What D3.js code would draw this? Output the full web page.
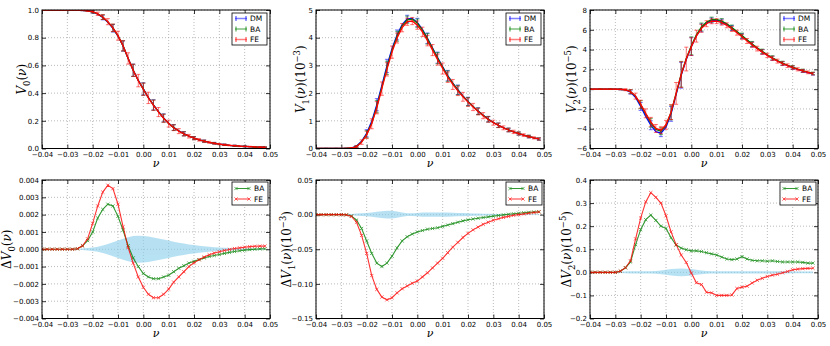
<!DOCTYPE html>
<html>
<head>
<meta charset="utf-8">
<script src="https://cdnjs.cloudflare.com/ajax/libs/d3/7.8.5/d3.min.js"></script>
<style>
body { margin: 0; background: #fff; }
svg { display: block; font-family: "DejaVu Sans", sans-serif; }
.grid line { stroke: #a8a8a8; stroke-dasharray: 1,2; stroke-width: 0.8; }
</style>
</head>
<body>
<div id="vis"></div>
<script>
// threshold grid
var nu = [-0.040,-0.038,-0.036,-0.034,-0.032,-0.030,-0.028,-0.026,-0.024,-0.022,
  -0.020,-0.018,-0.016,-0.014,-0.012,-0.010,-0.008,-0.006,-0.004,-0.002,
  0.000,0.002,0.004,0.006,0.008,0.010,0.012,0.014,0.016,0.018,
  0.020,0.022,0.024,0.026,0.028,0.030,0.032,0.034,0.036,0.038,
  0.040,0.042,0.044,0.046,0.048];

var xTicks = [-0.04,-0.03,-0.02,-0.01,0.00,0.01,0.02,0.03,0.04,0.05];

// V0
var v0DM = [1,1,1,1,1,1,1,0.999,0.998,0.994,
  0.986,0.970,0.946,0.912,0.868,0.812,0.740,0.650,0.565,0.492,
  0.430,0.368,0.315,0.266,0.221,0.182,0.152,0.127,0.107,0.090,
  0.075,0.063,0.053,0.045,0.038,0.032,0.027,0.023,0.020,0.017,
  0.015,0.013,0.011,0.010,0.009];
var v0Err = [0.002,0.002,0.002,0.002,0.002,0.002,0.002,0.002,0.003,0.005,
  0.008,0.012,0.017,0.022,0.027,0.032,0.037,0.041,0.044,0.045,
  0.044,0.041,0.037,0.033,0.029,0.025,0.021,0.018,0.015,0.013,
  0.011,0.009,0.008,0.007,0.006,0.005,0.005,0.004,0.004,0.004,
  0.003,0.003,0.003,0.003,0.003];
var v0Ticks = [0,0.2,0.4,0.6,0.8,1.0];

// V1 (10^-3)
var v1DM = [0,0,0,0,0,0,0.005,0.02,0.08,0.26,
  0.55,0.98,1.58,2.28,2.98,3.60,4.10,4.47,4.68,4.70,
  4.55,4.30,3.98,3.63,3.28,2.95,2.63,2.36,2.12,1.90,
  1.70,1.52,1.35,1.20,1.06,0.94,0.84,0.75,0.67,0.60,
  0.54,0.48,0.43,0.38,0.34];
var v1Err = [0.005,0.005,0.005,0.005,0.005,0.006,0.008,0.01,0.03,0.08,
  0.13,0.18,0.22,0.24,0.24,0.22,0.18,0.15,0.13,0.13,
  0.15,0.17,0.19,0.20,0.20,0.20,0.19,0.18,0.17,0.16,
  0.15,0.13,0.12,0.11,0.10,0.09,0.08,0.07,0.065,0.06,
  0.055,0.05,0.045,0.04,0.04];
var v1Ticks = [0,1,2,3,4,5];

// V2 (10^-5)
var v2DM = [0,0,0,0,0,0,-0.02,-0.08,-0.30,-0.85,
  -1.75,-2.75,-3.65,-4.30,-4.45,-3.85,-2.50,-0.55,1.40,3.00,
  4.30,5.40,6.20,6.70,6.95,6.97,6.82,6.55,6.18,5.78,
  5.35,4.93,4.52,4.13,3.77,3.43,3.12,2.84,2.59,2.37,
  2.17,1.99,1.83,1.68,1.55];
var v2Err = [0.02,0.02,0.02,0.02,0.02,0.02,0.05,0.1,0.2,0.3,
  0.4,0.45,0.45,0.4,0.35,0.45,0.75,1.1,1.3,1.2,
  0.9,0.6,0.4,0.3,0.25,0.25,0.25,0.25,0.25,0.25,
  0.25,0.25,0.25,0.24,0.23,0.22,0.21,0.2,0.19,0.18,
  0.17,0.16,0.15,0.14,0.13];
var v2Ticks = [-6,-4,-2,0,2,4,6,8];

// Delta V0
var dv0BA = [0,0,0,0,0,0,0,0.00003,0.0002,0.0005,
  0.001,0.0018,0.0023,0.0026,0.0025,0.0019,0.0011,0.0002,-0.0005,-0.001,
  -0.0014,-0.0016,-0.0017,-0.0017,-0.0016,-0.0015,-0.0013,-0.0011,-0.00095,-0.0008,
  -0.0007,-0.0006,-0.0005,-0.00042,-0.00036,-0.0003,-0.00024,-0.00018,-0.00013,-0.00009,
  -0.00005,-0.00002,0,0.00002,0.00003];
var dv0FE = [0,0,0,0,0,0,0,0.00003,0.0002,0.0006,
  0.0015,0.0025,0.0033,0.0037,0.0035,0.0026,0.0013,0.0001,-0.0008,-0.0016,
  -0.0022,-0.0026,-0.0028,-0.0028,-0.0026,-0.0023,-0.0019,-0.0016,-0.0013,-0.001,
  -0.00078,-0.0006,-0.00045,-0.00032,-0.00022,-0.00014,-0.00007,-0.00001,0.00004,0.00008,
  0.00012,0.00015,0.00017,0.00018,0.00018];
var dv0Band = [0,0,0,0,0,0,0.00001,0.00002,0.00004,0.00007,
  0.0001,0.00015,0.00022,0.0003,0.0004,0.0005,0.0006,0.0007,0.00076,0.00078,
  0.00077,0.00073,0.00068,0.00062,0.00056,0.0005,0.00044,0.00038,0.00033,0.00028,
  0.00024,0.0002,0.00017,0.00014,0.00012,0.0001,0.00008,0.00007,0.00006,0.00005,
  0.00004,0.00004,0.00003,0.00003,0.00003];
var dv0Ticks = [-0.004,-0.003,-0.002,-0.001,0,0.001,0.002,0.003,0.004];

// Delta V1 (10^-3)
var dv1BA = [0,0,0,0,0,0,-0.0003,-0.002,-0.008,-0.02,
  -0.038,-0.056,-0.07,-0.075,-0.07,-0.06,-0.048,-0.038,-0.032,-0.028,
  -0.025,-0.023,-0.021,-0.02,-0.019,-0.017,-0.015,-0.013,-0.011,-0.009,
  -0.0075,-0.0063,-0.0052,-0.0042,-0.0032,-0.0022,-0.0012,-0.0003,0.0005,0.0012,
  0.002,0.0027,0.0033,0.0038,0.0042];
var dv1FE = [0,0,0,0,0,0,-0.0003,-0.0025,-0.011,-0.03,
  -0.056,-0.088,-0.108,-0.119,-0.123,-0.12,-0.113,-0.107,-0.103,-0.099,
  -0.096,-0.09,-0.084,-0.077,-0.07,-0.063,-0.055,-0.047,-0.04,-0.033,
  -0.027,-0.022,-0.018,-0.014,-0.011,-0.008,-0.006,-0.004,-0.0025,-0.001,
  0,0.001,0.002,0.003,0.004];
var dv1Band = [0,0,0,0,0,0.0003,0.0006,0.001,0.0015,0.002,
  0.0025,0.003,0.004,0.005,0.0055,0.0055,0.0045,0.003,0.002,0.002,
  0.0025,0.003,0.003,0.003,0.003,0.003,0.003,0.0028,0.0025,0.0022,
  0.002,0.0018,0.0015,0.0013,0.0011,0.001,0.0008,0.0007,0.0006,0.0005,
  0.0004,0.0004,0.0004,0.0004,0.0004];
var dv1Ticks = [-0.15,-0.10,-0.05,0.00,0.05];

// Delta V2 (10^-5)
var dv2BA = [0,0,0,0,0,0,0.005,0.02,0.045,0.12,
  0.185,0.228,0.248,0.225,0.2,0.19,0.15,0.118,0.105,0.098,
  0.093,0.093,0.09,0.085,0.08,0.075,0.066,0.058,0.055,0.058,
  0.068,0.058,0.052,0.05,0.05,0.048,0.05,0.047,0.045,0.045,
  0.045,0.045,0.043,0.04,0.04];
var dv2FE = [0,0,0,0,0,0,0.005,0.02,0.05,0.145,
  0.235,0.305,0.345,0.325,0.3,0.245,0.175,0.12,0.075,0.043,
  -0.003,-0.045,-0.053,-0.086,-0.089,-0.1,-0.1,-0.1,-0.098,-0.07,
  -0.064,-0.06,-0.046,-0.034,-0.026,-0.018,-0.012,-0.008,-0.002,0.004,
  0.011,0.014,0.016,0.017,0.018];
var dv2Band = [0,0,0,0,0,0.002,0.003,0.004,0.005,0.005,
  0.005,0.005,0.005,0.006,0.008,0.011,0.014,0.016,0.017,0.016,
  0.014,0.011,0.008,0.006,0.005,0.005,0.005,0.005,0.005,0.005,
  0.005,0.005,0.005,0.005,0.005,0.005,0.005,0.005,0.005,0.005,
  0.004,0.004,0.004,0.004,0.004];
var dv2Ticks = [-0.2,-0.1,0.0,0.1,0.2,0.3,0.4];

var names = ["DM","BA","FE"];
var colors = {DM: "#0000ff", BA: "#008000", FE: "#ff0000"};

// layout
var plot_w = 228, plot_h = 138.5;
var col_x = [42, 316, 590];
var row_y = [10, 180];

var svg = d3.select("#vis")
  .append("svg")
  .attr("width", 830)
  .attr("height", 346);

var xScale = d3.scaleLinear()
  .domain([-0.04, 0.05])
  .range([0, plot_w]);

function addSum(base, delta){
  return base.map(function(v, i){ return v + delta[i]; });
}

function mathLabel(g, parts, x, y, size, rotate){
  var t = g.append("text")
    .attr("transform", "translate(" + x + "," + y + ")" + (rotate ? " rotate(-90)" : ""))
    .attr("text-anchor", "middle")
    .attr("font-family", "DejaVu Serif, serif")
    .attr("font-size", size);
  var shift = 0;
  parts.forEach(function(p){
    var s = p.sub ? 0.3 * size : (p.sup ? -0.45 * size : 0);
    var ts = t.append("tspan").attr("dy", s - shift).text(p.t);
    shift = s;
    if(p.sub || p.sup) ts.attr("font-size", size * 0.7);
    if(p.i) ts.attr("font-style", "italic");
  });
  if(shift != 0) t.append("tspan").attr("dy", -shift).text("\u200b");
}

function makePanel(col, row, yDomain, yTicks, yFmt, ylabel, ylabelX, id){
  var g = svg.append("g")
    .attr("transform", "translate(" + col_x[col] + "," + row_y[row] + ")");
  var yScale = d3.scaleLinear().domain(yDomain).range([plot_h, 0]);

  g.append("clipPath").attr("id", "clip" + id)
    .append("rect").attr("width", plot_w).attr("height", plot_h);

  // grid
  var grid = g.append("g").attr("class", "grid");
  grid.selectAll(".gx").data(xTicks).enter().append("line")
    .attr("x1", function(d){ return xScale(d); })
    .attr("x2", function(d){ return xScale(d); })
    .attr("y1", 0).attr("y2", plot_h);
  grid.selectAll(".gy").data(yTicks).enter().append("line")
    .attr("y1", function(d){ return yScale(d); })
    .attr("y2", function(d){ return yScale(d); })
    .attr("x1", 0).attr("x2", plot_w);

  var fx = d3.format(".2f");
  var axes = [
    d3.axisBottom(xScale).tickValues(xTicks).tickFormat(fx).tickPadding(4),
    d3.axisTop(xScale).tickValues(xTicks).tickFormat(""),
    d3.axisLeft(yScale).tickValues(yTicks).tickFormat(yFmt).tickPadding(3),
    d3.axisRight(yScale).tickValues(yTicks).tickFormat("")
  ];
  var trans = ["translate(0," + plot_h + ")", null, null, "translate(" + plot_w + ",0)"];
  axes.forEach(function(ax, i){
    var a = g.append("g")
      .attr("transform", trans[i])
      .call(ax.tickSizeInner(-4).tickSizeOuter(0))
      .attr("font-size", 7)
      .attr("font-family", "DejaVu Sans, sans-serif");
    a.select(".domain").remove();
    a.selectAll("line").attr("stroke", "#000").attr("stroke-width", 0.8);
  });

  var body = g.append("g").attr("clip-path", "url(#clip" + id + ")");

  g.append("rect")
    .attr("class", "frame")
    .attr("width", plot_w).attr("height", plot_h)
    .attr("fill", "none").attr("stroke", "#000").attr("stroke-width", 1);

  mathLabel(g, ylabel, ylabelX, plot_h / 2, 12, true);
  mathLabel(g, [{t: "\u03bd", i: 1}], plot_w / 2, plot_h + 18.5, 11, false);

  return {g: g, body: body, y: yScale};
}

function errSeries(p, vals, errs, color, every){
  var pts = vals.map(function(v, i){ return {x: nu[i], y: v, e: errs[i], i: i}; })
    .filter(function(d){ return d.i % every == 0; });
  var eb = p.body.append("g")
    .attr("stroke", color)
    .attr("stroke-opacity", 0.55)
    .attr("stroke-width", 1);
  eb.selectAll("line.bar").data(pts).enter().append("line")
    .attr("x1", function(d){ return xScale(d.x); })
    .attr("x2", function(d){ return xScale(d.x); })
    .attr("y1", function(d){ return p.y(d.y - d.e); })
    .attr("y2", function(d){ return p.y(d.y + d.e); });
  [-1, 1].forEach(function(s){
    eb.selectAll("line.cap" + s).data(pts).enter().append("line")
      .attr("x1", function(d){ return xScale(d.x) - 2; })
      .attr("x2", function(d){ return xScale(d.x) + 2; })
      .attr("y1", function(d){ return p.y(d.y + s * d.e); })
      .attr("y2", function(d){ return p.y(d.y + s * d.e); });
  });
  p.body.append("path")
    .datum(vals)
    .attr("fill", "none")
    .attr("stroke", color)
    .attr("stroke-width", 1.3)
    .attr("d", d3.line()
      .x(function(d, i){ return xScale(nu[i]); })
      .y(function(d){ return p.y(d); }));
}

function markSeries(p, vals, color){
  var s = p.body.append("g").attr("opacity", 0.8);
  s.append("path")
    .datum(vals)
    .attr("fill", "none")
    .attr("stroke", color)
    .attr("stroke-width", 1.1)
    .attr("d", d3.line()
      .x(function(d, i){ return xScale(nu[i]); })
      .y(function(d){ return p.y(d); }));
  s.selectAll("path.mk").data(vals).enter().append("path")
    .attr("transform", function(d, i){ return "translate(" + xScale(nu[i]) + "," + p.y(d) + ")"; })
    .attr("d", "M-1.6,-1.6L1.6,1.6M-1.6,1.6L1.6,-1.6")
    .attr("stroke", color)
    .attr("stroke-width", 0.8);
}

function band(p, amp){
  p.body.append("path")
    .datum(amp)
    .attr("fill", "#87ceeb")
    .attr("fill-opacity", 0.6)
    .attr("d", d3.area()
      .x(function(d, i){ return xScale(nu[i]); })
      .y0(function(d){ return p.y(-d); })
      .y1(function(d){ return p.y(d); }));
}

function topLegend(p){
  var lg = p.g.append("g").attr("transform", "translate(" + (plot_w - 38) + ",3)");
  lg.append("rect").attr("width", 35).attr("height", 32)
    .attr("fill", "#fff").attr("stroke", "#000").attr("stroke-width", 0.8);
  names.forEach(function(n, i){
    var yy = 5.5 + i * 10.5;
    var h = lg.append("g").attr("stroke", colors[n]);
    h.append("line").attr("x1", 3).attr("x2", 15).attr("y1", yy).attr("y2", yy)
      .attr("stroke-opacity", 0.5).attr("stroke-width", 1.5);
    [4, 14].forEach(function(cx){
      h.append("line").attr("x1", cx).attr("x2", cx).attr("y1", yy - 2.5).attr("y2", yy + 2.5)
        .attr("stroke-opacity", 0.8).attr("stroke-width", 1);
    });
    lg.append("text").attr("x", 18).attr("y", yy).attr("dy", "0.35em")
      .attr("font-size", 7.5).text(n);
  });
}

function bottomLegend(p){
  var lg = p.g.append("g").attr("transform", "translate(" + (plot_w - 38) + ",2)");
  lg.append("rect").attr("width", 36).attr("height", 23)
    .attr("fill", "#fff").attr("stroke", "#000").attr("stroke-width", 0.8);
  ["BA", "FE"].forEach(function(n, i){
    var yy = 6.5 + i * 10.5;
    var h = lg.append("g").attr("stroke", colors[n]).attr("opacity", 0.8);
    h.append("line").attr("x1", 4).attr("x2", 17).attr("y1", yy).attr("y2", yy);
    [4, 17].forEach(function(cx){
      h.append("path").attr("transform", "translate(" + cx + "," + yy + ")")
        .attr("d", "M-1.6,-1.6L1.6,1.6M-1.6,1.6L1.6,-1.6").attr("stroke-width", 0.8);
    });
    lg.append("text").attr("x", 22).attr("y", yy).attr("dy", "0.35em")
      .attr("font-size", 7.5).text(n);
  });
}

var lab0 = [{t: "V", i: 1}, {t: "0", sub: 1}, {t: "("}, {t: "\u03bd", i: 1}, {t: ")"}];
var lab1 = [{t: "V", i: 1}, {t: "1", sub: 1}, {t: "("}, {t: "\u03bd", i: 1}, {t: ")(10"}, {t: "\u22123", sup: 1}, {t: ")"}];
var lab2 = [{t: "V", i: 1}, {t: "2", sub: 1}, {t: "("}, {t: "\u03bd", i: 1}, {t: ")(10"}, {t: "\u22125", sup: 1}, {t: ")"}];

// top row
var p1 = makePanel(0, 0, [0, 1], v0Ticks, d3.format(".1f"), lab0, -16, 1);
var p2 = makePanel(1, 0, [0, 5], v1Ticks, d3.format("d"), lab1, -11, 2);
var p3 = makePanel(2, 0, [-6, 8], v2Ticks, d3.format("d"), lab2, -14, 3);

[[p1, v0DM, v0Err, dv0BA, dv0FE], [p2, v1DM, v1Err, dv1BA, dv1FE], [p3, v2DM, v2Err, dv2BA, dv2FE]]
  .forEach(function(r){
    errSeries(r[0], r[1], r[2], colors.DM, 2);
    errSeries(r[0], addSum(r[1], r[3]), r[2], colors.BA, 2);
    errSeries(r[0], addSum(r[1], r[4]), r[2], colors.FE, 1);
    topLegend(r[0]);
  });

// bottom row
var p4 = makePanel(0, 1, [-0.004, 0.004], dv0Ticks, d3.format(".3f"), [{t: "\u0394"}].concat(lab0), -31, 4);
var p5 = makePanel(1, 1, [-0.15, 0.05], dv1Ticks, d3.format(".2f"), [{t: "\u0394"}].concat(lab1), -25, 5);
var p6 = makePanel(2, 1, [-0.2, 0.4], dv2Ticks, d3.format(".1f"), [{t: "\u0394"}].concat(lab2), -19, 6);

[[p4, dv0Band, dv0BA, dv0FE], [p5, dv1Band, dv1BA, dv1FE], [p6, dv2Band, dv2BA, dv2FE]]
  .forEach(function(r){
    band(r[0], r[1]);
    markSeries(r[0], r[2], colors.BA);
    markSeries(r[0], r[3], colors.FE);
    bottomLegend(r[0]);
  });
</script>
</body>
</html>
